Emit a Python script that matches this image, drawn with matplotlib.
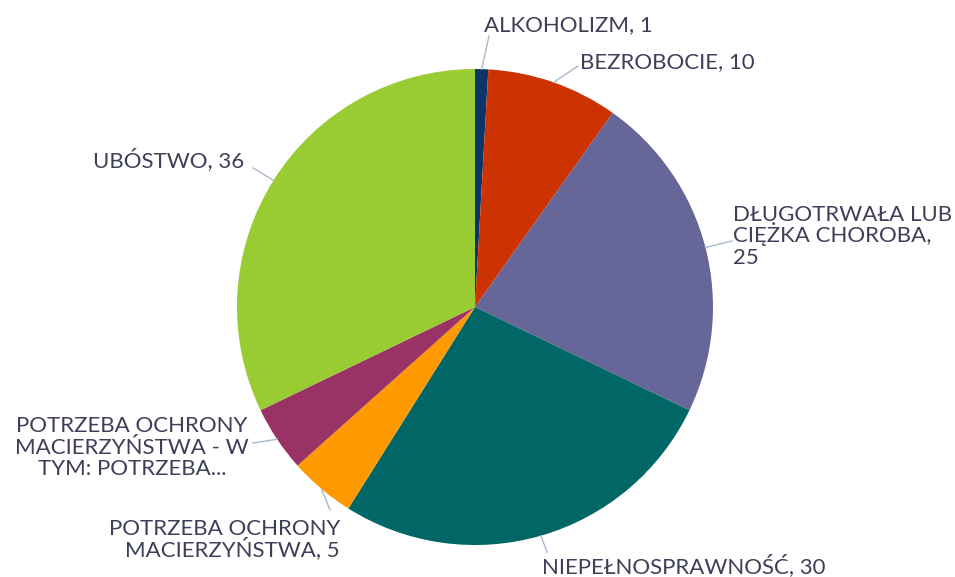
import numpy as np
import matplotlib
matplotlib.use('Agg')
import matplotlib.pyplot as plt

# dane
kategorie = ['ALKOHOLIZM', 'BEZROBOCIE', 'DŁUGOTRWAŁA LUB CIĘŻKA CHOROBA', 'NIEPEŁNOSPRAWNOŚĆ',
             'POTRZEBA OCHRONY MACIERZYŃSTWA', 'POTRZEBA OCHRONY MACIERZYŃSTWA - W TYM: POTRZEBA...', 'UBÓSTWO']
wartosci = [1, 10, 25, 30, 5, 5, 36]
# teksty etykiet po zawinięciu (jak na wykresie)
teksty = [
    ['ALKOHOLIZM, 1'],
    ['BEZROBOCIE, 10'],
    ['DŁUGOTRWAŁA LUB', 'CIĘŻKA CHOROBA,', '25'],
    ['NIEPEŁNOSPRAWNOŚĆ, 30'],
    ['POTRZEBA OCHRONY', 'MACIERZYŃSTWA, 5'],
    ['POTRZEBA OCHRONY', 'MACIERZYŃSTWA - W', 'TYM: POTRZEBA...'],
    ['UBÓSTWO, 36'],
]
kolory = ['#0d3567', '#cc3300', '#666699', '#006666', '#ff9900', '#993366', '#99cc33']

W, H = 955, 577
cx, cy, r = 475, 307, 238  # środek i promień koła w pikselach
krok = 21.5  # odstęp wierszy w px

# położenie etykiet (px): x, linia bazowa pierwszego wiersza, wyrównanie, koniec łącznika
etykiety = [
    (484, 31, 'left', (489, 36)),
    (580, 68, 'left', (578, 66)),
    (733, 221, 'left', (732, 241)),
    (542, 573, 'left', (547, 552)),
    (340, 535, 'right', (330, 510)),
    (132, 432, 'center', (253, 443)),
    (93, 167, 'left', (253, 168)),
]

plt.rcParams['font.family'] = ['Lato', 'DejaVu Sans']
fig = plt.figure(figsize=(W / 100, H / 100), dpi=100)

ax = fig.add_axes([(cx - r) / W, (H - cy - r) / H, 2 * r / W, 2 * r / H])
ax.pie(wartosci, colors=kolory, startangle=90, counterclock=False, radius=1,
       wedgeprops=dict(linewidth=0))
ax.set_xlim(-1, 1)
ax.set_ylim(-1, 1)
ax.set_aspect('equal')
ax.axis('off')

ov = fig.add_axes([0, 0, 1, 1])
ov.set_xlim(0, W)
ov.set_ylim(H, 0)
ov.axis('off')
ov.patch.set_alpha(0)

suma = sum(wartosci)
kum = np.cumsum([0] + wartosci)
for i, v in enumerate(wartosci):
    theta = np.deg2rad((kum[i] + v / 2) / suma * 360)
    px = cx + r * np.sin(theta)
    py = cy - r * np.cos(theta)
    x, y, ha, (ex, ey) = etykiety[i]
    ov.plot([px, ex], [py, ey], color='#a9b8cf', lw=1)
    for j, linia in enumerate(teksty[i]):
        ov.text(x, y + j * krok, linia, ha=ha, va='baseline', fontsize=16, color='#3d4058')

fig.savefig('out.png', dpi=100)
